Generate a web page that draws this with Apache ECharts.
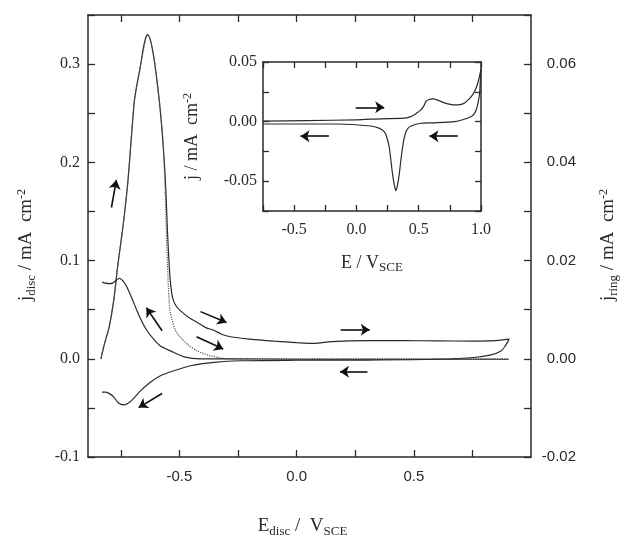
<!DOCTYPE html>
<html><head><meta charset="utf-8">
<script src="https://cdn.jsdelivr.net/npm/echarts@6/dist/echarts.min.js"></script>
<style>html,body{margin:0;padding:0;background:#fff}#c{width:620px;height:545px}</style>
</head><body><div id="c"></div>
<script>
// ---- Main chart data: disc current (left axis, mA cm^-2) ----
var discFwdE = [-0.835,-0.82,-0.80,-0.78,-0.763,-0.75,-0.738,-0.72,-0.705,-0.692,-0.679,-0.667,-0.655,-0.645,-0.636,-0.627,-0.615,-0.603,-0.586,-0.573,-0.563,-0.556,-0.551,-0.544,-0.537,-0.529,-0.515,-0.496,-0.46,-0.424,-0.39,-0.353,-0.32,-0.282,-0.2,-0.097,0.0,0.073,0.15,0.3,0.45,0.6,0.75,0.85,0.907];
var discFwdJ = [0,0.015,0.032,0.06,0.095,0.118,0.14,0.18,0.225,0.263,0.282,0.297,0.315,0.326,0.330,0.327,0.315,0.297,0.263,0.229,0.195,0.161,0.13,0.097,0.075,0.062,0.054,0.049,0.042,0.037,0.032,0.029,0.025,0.0224,0.020,0.018,0.0165,0.0156,0.0175,0.0185,0.0185,0.0182,0.018,0.0185,0.020];
var discRevE = [0.907,0.89,0.872,0.83,0.757,0.6,0.3,0.0,-0.24,-0.353,-0.453,-0.524,-0.581,-0.624,-0.667,-0.709,-0.738,-0.76,-0.78,-0.795,-0.815,-0.83];
var discRevJ = [0.020,0.013,0.008,0.004,0.0013,-0.0005,-0.0013,-0.0015,-0.002,-0.0037,-0.0071,-0.0122,-0.0173,-0.024,-0.033,-0.0435,-0.047,-0.045,-0.039,-0.036,-0.034,-0.034];
// ---- ring current (right axis, mA cm^-2) ----
var ringFwdE = [-0.835,-0.82,-0.80,-0.78,-0.763,-0.75,-0.738,-0.72,-0.692,-0.667,-0.65,-0.642,-0.635,-0.627,-0.615,-0.603,-0.586,-0.572,-0.562,-0.556,-0.551,-0.545,-0.538,-0.517,-0.496,-0.467,-0.424,-0.368,-0.296,0.0,0.5,0.905];
var ringFwdJ = [0,0.003,0.0064,0.012,0.019,0.0236,0.028,0.036,0.0526,0.0594,0.0636,0.0654,0.066,0.0654,0.063,0.0594,0.0526,0.0458,0.036,0.026,0.0194,0.0126,0.0092,0.0058,0.0044,0.003,0.0016,0.0006,0,0,0,0];
var ringRevE = [0.905,0.5,0.0,-0.3,-0.41,-0.48,-0.538,-0.581,-0.61,-0.638,-0.66,-0.681,-0.70,-0.724,-0.74,-0.756,-0.77,-0.785,-0.80,-0.815,-0.83];
var ringRevJ = [-0.0001,-0.0001,-0.0001,0.0,0.0,0.0004,0.0016,0.0026,0.004,0.0057,0.0076,0.0098,0.012,0.0146,0.0158,0.0164,0.016,0.0154,0.0153,0.0154,0.0156];
// ---- Inset data (j / mA cm^-2 vs E / V_SCE) ----
var insetFwdE = [-0.75,-0.4,0.0,0.115,0.385,0.43,0.465,0.495,0.519,0.54,0.559,0.585,0.613,0.653,0.707,0.787,0.84,0.868,0.905,0.935,0.96,0.976,0.99,1.0];
var insetFwdJ = [0.0004,0.0008,0.0015,0.002,0.0029,0.004,0.0057,0.008,0.010,0.013,0.017,0.0185,0.019,0.018,0.0157,0.014,0.0145,0.0157,0.019,0.0228,0.028,0.033,0.039,0.044];
var insetRevE = [1.0,0.995,0.989,0.975,0.962,0.945,0.922,0.86,0.787,0.6,0.519,0.438,0.415,0.398,0.383,0.371,0.357,0.344,0.33,0.317,0.304,0.29,0.276,0.263,0.245,0.223,0.18,0.115,-0.153,-0.5,-0.75];
var insetRevJ = [0.044,0.035,0.024,0.015,0.010,0.0065,0.0043,0.0018,0.0,-0.001,-0.0014,-0.0037,-0.0055,-0.0085,-0.014,-0.0213,-0.032,-0.044,-0.053,-0.058,-0.053,-0.044,-0.032,-0.0213,-0.0135,-0.0085,-0.0055,-0.0037,-0.002,-0.002,-0.002];
// ---- Tick positions / labels ----
var mainXTicks = [-0.75,-0.5,-0.25,0,0.25,0.5,0.75];
var mainXLabels = [-0.5,0,0.5];
// ---- Arrows: [x1,y1,x2,y2] (tail -> head) ----
var mainArrows = [[-0.79,0.154,-0.769,0.182],[-0.574,0.0286,-0.641,0.052],[-0.41,0.048,-0.299,0.037],[-0.427,0.0224,-0.313,0.0099],[-0.574,-0.0354,-0.674,-0.0497],[0.188,0.0296,0.312,0.0296],[0.302,-0.0133,0.185,-0.0133]];
var insetArrows = [[-0.006,0.012,0.223,0.012],[-0.221,-0.0122,-0.449,-0.0122],[0.814,-0.0122,0.586,-0.0122]];

function zip(a,b){return a.map(function(v,i){return [v,b[i]];});}
function arrowData(arr){return arr.map(function(a){return [{coord:[a[0],a[1]]},{coord:[a[2],a[3]]}];});}
function isMult(v,s){var q=v/s;return Math.abs(q-Math.round(q))<1e-6;}

var SERIF='"Liberation Serif","Times New Roman",serif';
var SANS='"Liberation Sans",Arial,sans-serif';
var INK='#2a2a2a';
var axisLine={show:true,onZero:false,lineStyle:{color:INK,width:1.5}};
var tickIn={show:true,inside:true,length:7,lineStyle:{color:INK,width:1.3}};
function mkRich(fs){return {
  n:{fontFamily:SERIF,fontSize:fs,color:INK},
  sub:{fontFamily:SERIF,fontSize:Math.round(fs*0.7),color:INK,padding:[Math.round(fs*0.5),0,0,0]},
  sup:{fontFamily:SERIF,fontSize:Math.round(fs*0.65),color:INK,padding:[0,0,Math.round(fs*0.5),0]}
};}
var richMain=mkRich(19), richInset=mkRich(18);
var lineS={color:INK,width:1.2};

var chart=echarts.init(document.getElementById('c'),null,{renderer:'canvas'});
chart.setOption({
  animation:false,
  backgroundColor:'#fff',
  grid:[
    {left:88,right:89,top:15,bottom:88,show:false,containLabel:false,outerBoundsMode:'none'},
    {left:263,top:62,width:218,height:149,show:false,containLabel:false,outerBoundsMode:'none'}
  ],
  xAxis:[
    {type:'value',gridIndex:0,position:'bottom',min:-0.89,max:1.0,
     axisLine:axisLine,axisTick:Object.assign({},tickIn,{customValues:mainXTicks}),
     splitLine:{show:false},
     axisLabel:{customValues:mainXLabels,margin:12,fontFamily:SANS,fontSize:15,color:INK,formatter:function(v){return v.toFixed(1);}},
     name:'{n|E}{sub|disc}{n| /  V}{sub|SCE}',nameLocation:'middle',nameGap:58,
     nameTextStyle:{rich:richMain,padding:[0,14,0,0]}},
    {type:'value',gridIndex:0,position:'top',min:-0.89,max:1.0,
     axisLine:axisLine,axisTick:Object.assign({},tickIn,{customValues:mainXTicks}),
     splitLine:{show:false},axisLabel:{show:false}},
    {type:'value',gridIndex:1,position:'bottom',min:-0.75,max:1.0,interval:0.25,
     axisLine:axisLine,axisTick:Object.assign({},tickIn,{length:6}),splitLine:{show:false},
     axisLabel:{margin:11,fontFamily:SERIF,fontSize:16,color:INK,formatter:function(v){return isMult(v,0.5)?v.toFixed(1):'';}},
     name:'{n|E / V}{sub|SCE}',nameLocation:'middle',nameGap:41,nameTextStyle:{rich:richInset}},
    {type:'value',gridIndex:1,position:'top',min:-0.75,max:1.0,interval:0.25,
     axisLine:axisLine,axisTick:Object.assign({},tickIn,{length:6}),splitLine:{show:false},axisLabel:{show:false}}
  ],
  yAxis:[
    {type:'value',gridIndex:0,position:'left',min:-0.1,max:0.35,interval:0.05,
     axisLine:axisLine,axisTick:tickIn,splitLine:{show:false},
     axisLabel:{margin:8,fontFamily:SERIF,fontSize:16,color:INK,formatter:function(v){return isMult(v,0.1)?v.toFixed(1):'';}},
     name:'{n|j}{sub|disc}{n| / mA  cm}{sup|-2}',nameLocation:'middle',nameRotate:90,nameGap:50,
     nameTextStyle:{rich:richMain,padding:[0,18,0,0]}},
    {type:'value',gridIndex:0,position:'right',min:-0.02,max:0.07,interval:0.01,
     axisLine:axisLine,axisTick:tickIn,splitLine:{show:false},
     axisLabel:{margin:45,align:'right',fontFamily:SANS,fontSize:15,color:INK,formatter:function(v){return isMult(v,0.02)?v.toFixed(2):'';}},
     name:'{n|j}{sub|ring}{n| / mA  cm}{sup|-2}',nameLocation:'middle',nameRotate:90,nameGap:66,
     nameTextStyle:{rich:richMain,padding:[0,18,0,0]}},
    {type:'value',gridIndex:1,position:'left',min:-0.075,max:0.05,interval:0.025,
     axisLine:axisLine,axisTick:Object.assign({},tickIn,{length:6}),splitLine:{show:false},
     axisLabel:{margin:6,fontFamily:SERIF,fontSize:16,color:INK,formatter:function(v){return isMult(v,0.05)?v.toFixed(2):'';}},
     name:'{n|j / mA  cm}{sup|-2}',nameLocation:'middle',nameRotate:90,nameGap:60,nameTextStyle:{rich:richInset}},
    {type:'value',gridIndex:1,position:'right',min:-0.075,max:0.05,interval:0.025,
     axisLine:axisLine,axisTick:Object.assign({},tickIn,{length:6}),splitLine:{show:false},axisLabel:{show:false}}
  ],
  series:[
    {type:'line',name:'discFwd',xAxisIndex:0,yAxisIndex:0,data:zip(discFwdE,discFwdJ),showSymbol:false,smooth:0.25,lineStyle:lineS,
     markLine:{silent:true,symbol:['none','arrow'],symbolSize:9,label:{show:false},lineStyle:{color:'#111',width:1.6,type:'solid'},data:arrowData(mainArrows)}},
    {type:'line',name:'discRev',xAxisIndex:0,yAxisIndex:0,data:zip(discRevE,discRevJ),showSymbol:false,smooth:0.25,lineStyle:lineS},
    {type:'line',name:'ringFwd',xAxisIndex:0,yAxisIndex:1,data:zip(ringFwdE,ringFwdJ),showSymbol:false,smooth:0.25,lineStyle:{color:'#555',width:1.2,type:'dotted'}},
    {type:'line',name:'ringRev',xAxisIndex:0,yAxisIndex:1,data:zip(ringRevE,ringRevJ),showSymbol:false,smooth:0.25,lineStyle:lineS},
    {type:'line',name:'insetFwd',xAxisIndex:2,yAxisIndex:2,data:zip(insetFwdE,insetFwdJ),showSymbol:false,smooth:0.25,lineStyle:lineS,
     markLine:{silent:true,symbol:['none','arrow'],symbolSize:9,label:{show:false},lineStyle:{color:'#111',width:1.6,type:'solid'},data:arrowData(insetArrows)}},
    {type:'line',name:'insetRev',xAxisIndex:2,yAxisIndex:2,data:zip(insetRevE,insetRevJ),showSymbol:false,smooth:0.25,lineStyle:lineS}
  ]
});
</script></body></html>
